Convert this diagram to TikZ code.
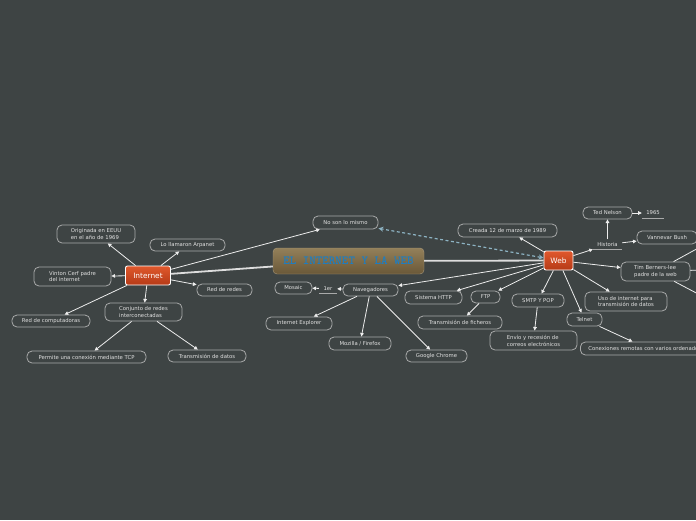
\documentclass[tikz,border=0pt]{standalone}
\usepackage{fontspec}
\newfontfamily\dv{DejaVu Sans}
\usetikzlibrary{arrows.meta}
\definecolor{bg}{HTML}{3E4444}
\definecolor{edge}{HTML}{A9AAAA}
\definecolor{txt}{HTML}{E2E2E2}
\definecolor{ln}{HTML}{EDEDED}
\definecolor{dashc}{HTML}{8DB3C3}
\definecolor{redtop}{HTML}{E0582C}
\definecolor{redbot}{HTML}{B53A17}
\definecolor{brtop}{HTML}{93805A}
\definecolor{brbot}{HTML}{6A5838}
\definecolor{titlec}{HTML}{1C7EC4}
\tikzset{
  box/.style={draw=edge, line width=0.8pt, rounded corners=5pt, fill=bg, text=txt,
    font=\dv\fontsize{5.3}{6.9}\selectfont, align=center, inner sep=0pt},
  lbox/.style={box, align=left},
  plain/.style={text=txt, font=\dv\fontsize{5.3}{6.9}\selectfont, inner sep=0pt},
  hub/.style={draw=white, line width=0.9pt, rounded corners=2pt, top color=redtop, bottom color=redbot,
    text=white, font=\dv\fontsize{7.4}{8}\selectfont, inner sep=0pt},
  conn/.style={draw=ln, line width=0.8pt, -{Triangle[length=3.6pt,width=3.6pt]}},
  thick conn/.style={draw=ln!85!gray, line width=1.8pt},
  under/.style={draw=edge, line width=0.7pt},
}
\begin{document}
\begin{tikzpicture}[x=1pt,y=-1pt]
\fill[bg] (0,0) rectangle (696,520);
\useasboundingbox (0,0) rectangle (696,520);
\clip (0,0) rectangle (696,520);

% central and hubs
\node[rounded corners=4pt, top color=brtop, bottom color=brbot, draw=brtop!80!white, line width=0.4pt,
  minimum width=151pt, minimum height=26pt, inner sep=0pt, text=titlec,
  font=\ttfamily\bfseries\fontsize{12.4}{14}\selectfont] (title) at (348.5,261) {EL INTERNET Y LA WEB};
\node[hub, minimum width=45pt, minimum height=19pt] (int) at (148,275.5) {Internet};
\node[hub, minimum width=29pt, minimum height=19pt] (web) at (558.5,260.5) {Web};

% Internet branch
\node[lbox, minimum width=78pt, minimum height=18pt] (orig) at (96,234) {Originada en EEUU\\en el año de 1969};
\node[box, minimum width=75pt, minimum height=12pt] (arp) at (187.5,245) {Lo llamaron Arpanet};
\node[lbox, minimum width=77pt, minimum height=19pt] (vint) at (72.5,276.5) {Vinton Cerf padre\\del internet};
\node[box, minimum width=55pt, minimum height=12pt] (rdr) at (224.5,290) {Red de redes};
\node[lbox, minimum width=77pt, minimum height=18pt] (conj) at (143.5,312) {Conjunto de redes\\interconectadas};
\node[box, minimum width=78pt, minimum height=12pt] (rdc) at (51,321) {Red de computadoras};
\node[box, minimum width=119pt, minimum height=12pt] (tcp) at (86.5,357) {Permite una conexión mediante TCP};
\node[box, minimum width=78pt, minimum height=12pt] (tdd) at (207,356) {Transmisión de datos};
\node[box, minimum width=65pt, minimum height=13pt] (nsm) at (345.5,222.5) {No son lo mismo};

% Web branch
\node[box, minimum width=99pt, minimum height=13pt] (cre) at (507.5,230.5) {Creada 12 de marzo de 1989};
\node[box, minimum width=55pt, minimum height=12pt] (nav) at (370.5,290) {Navegadores};
\node[box, minimum width=57pt, minimum height=13pt] (http) at (433.5,297.5) {Sistema HTTP};
\node[box, minimum width=29pt, minimum height=12pt] (ftp) at (485.5,297) {FTP};
\node[box, minimum width=52pt, minimum height=13pt] (smtp) at (538,300.5) {SMTP Y POP};
\node[box, minimum width=35pt, minimum height=13pt] (tel) at (584.5,319.5) {Telnet};
\node[lbox, minimum width=82pt, minimum height=19pt] (uso) at (626,301.5) {Uso de internet para\\transmisión de datos};
\node[lbox, minimum width=69pt, minimum height=19pt] (tim) at (655.5,271.5) {Tim Berners-lee\\padre de la web};
\node[plain, minimum width=29pt, minimum height=10pt] (hist) at (607.5,244.5) {Historia};
\node[box, minimum width=49pt, minimum height=12pt] (ted) at (607.5,213) {Ted Nelson};
\node[plain, minimum width=22pt, minimum height=10pt] (y65) at (653,213) {1965};
\node[box, minimum width=60pt, minimum height=13pt] (van) at (667,237.5) {Vannevar Bush};
\node[box, anchor=west, inner xsep=8pt, minimum height=13pt] (con) at (580,348.5) {Conexiones remotas con varios ordenadores};
\node[lbox, minimum width=87pt, minimum height=19pt] (env) at (533.5,340.5) {Envío y recesión de\\correos electrónicos};
\node[box, minimum width=84pt, minimum height=13pt] (tdf) at (460,322.5) {Transmisión de ficheros};

% Navegadores branch
\node[box, minimum width=66pt, minimum height=13pt] (ie) at (299,323.5) {Internet Explorer};
\node[box, minimum width=62pt, minimum height=13pt] (moz) at (360,343.5) {Mozilla / Firefox};
\node[box, minimum width=61pt, minimum height=12pt] (gch) at (436.5,356) {Google Chrome};
\node[box, minimum width=37pt, minimum height=12pt] (mos) at (293.5,288) {Mosaic};
\node[plain, minimum width=18pt, minimum height=10pt] (ler) at (328,288.5) {1er};

% underlines
\draw[under] (hist.south west) -- (hist.south east);
\draw[under] (y65.south west) -- (y65.south east);
\draw[under] (ler.south west) -- (ler.south east);

% off-canvas targets
\coordinate (o1) at (702,246);
\coordinate (o2) at (702,270);
\coordinate (o3) at (702,296);

% thick trunk lines
\draw[thick conn] (int) -- (title);
\draw[thick conn] (title) -- (web);

% dashed relation
\draw[draw=dashc, line width=1.2pt, dash pattern=on 3pt off 2.5pt,
  {Stealth[length=5pt,width=5pt]}-{Stealth[length=5pt,width=5pt]}] (web) -- (nsm);

% Internet connectors
\draw[conn] (int) -- (orig);
\draw[conn] (int) -- (arp);
\draw[conn] (int) -- (vint);
\draw[conn] (int) -- (rdr);
\draw[conn] (int) -- (conj);
\draw[conn] (int) -- (rdc);
\draw[conn] (conj) -- (tcp);
\draw[conn] (conj) -- (tdd);
\draw[conn] (int) -- (nsm);

% Web connectors
\draw[conn] (web) -- (cre);
\draw[conn] (web) -- (nav);
\draw[conn] (web) -- (http);
\draw[conn] (web) -- (ftp);
\draw[conn] (web) -- (smtp);
\draw[conn] (web) -- (tel);
\draw[conn] (web) -- (uso);
\draw[conn] (web) -- (tim);
\draw[conn] (web) -- (hist);
\draw[conn] (hist) -- (ted);
\draw[conn] (ted) -- (y65);
\draw[conn] (hist) -- (van);
\draw[draw=ln, line width=0.8pt] (tim) -- (o1);
\draw[draw=ln, line width=0.8pt] (tim) -- (o2);
\draw[draw=ln, line width=0.8pt] (tim) -- (o3);
\draw[conn] (tel) -- (con);
\draw[conn] (smtp) -- (env);
\draw[conn] (ftp) -- (tdf);

% Navegadores connectors
\draw[conn] (nav) -- (ler);
\draw[conn] (ler) -- (mos);
\draw[conn] (nav) -- (ie);
\draw[conn] (nav) -- (moz);
\draw[conn] (nav) -- (gch);
\end{tikzpicture}
\end{document}
